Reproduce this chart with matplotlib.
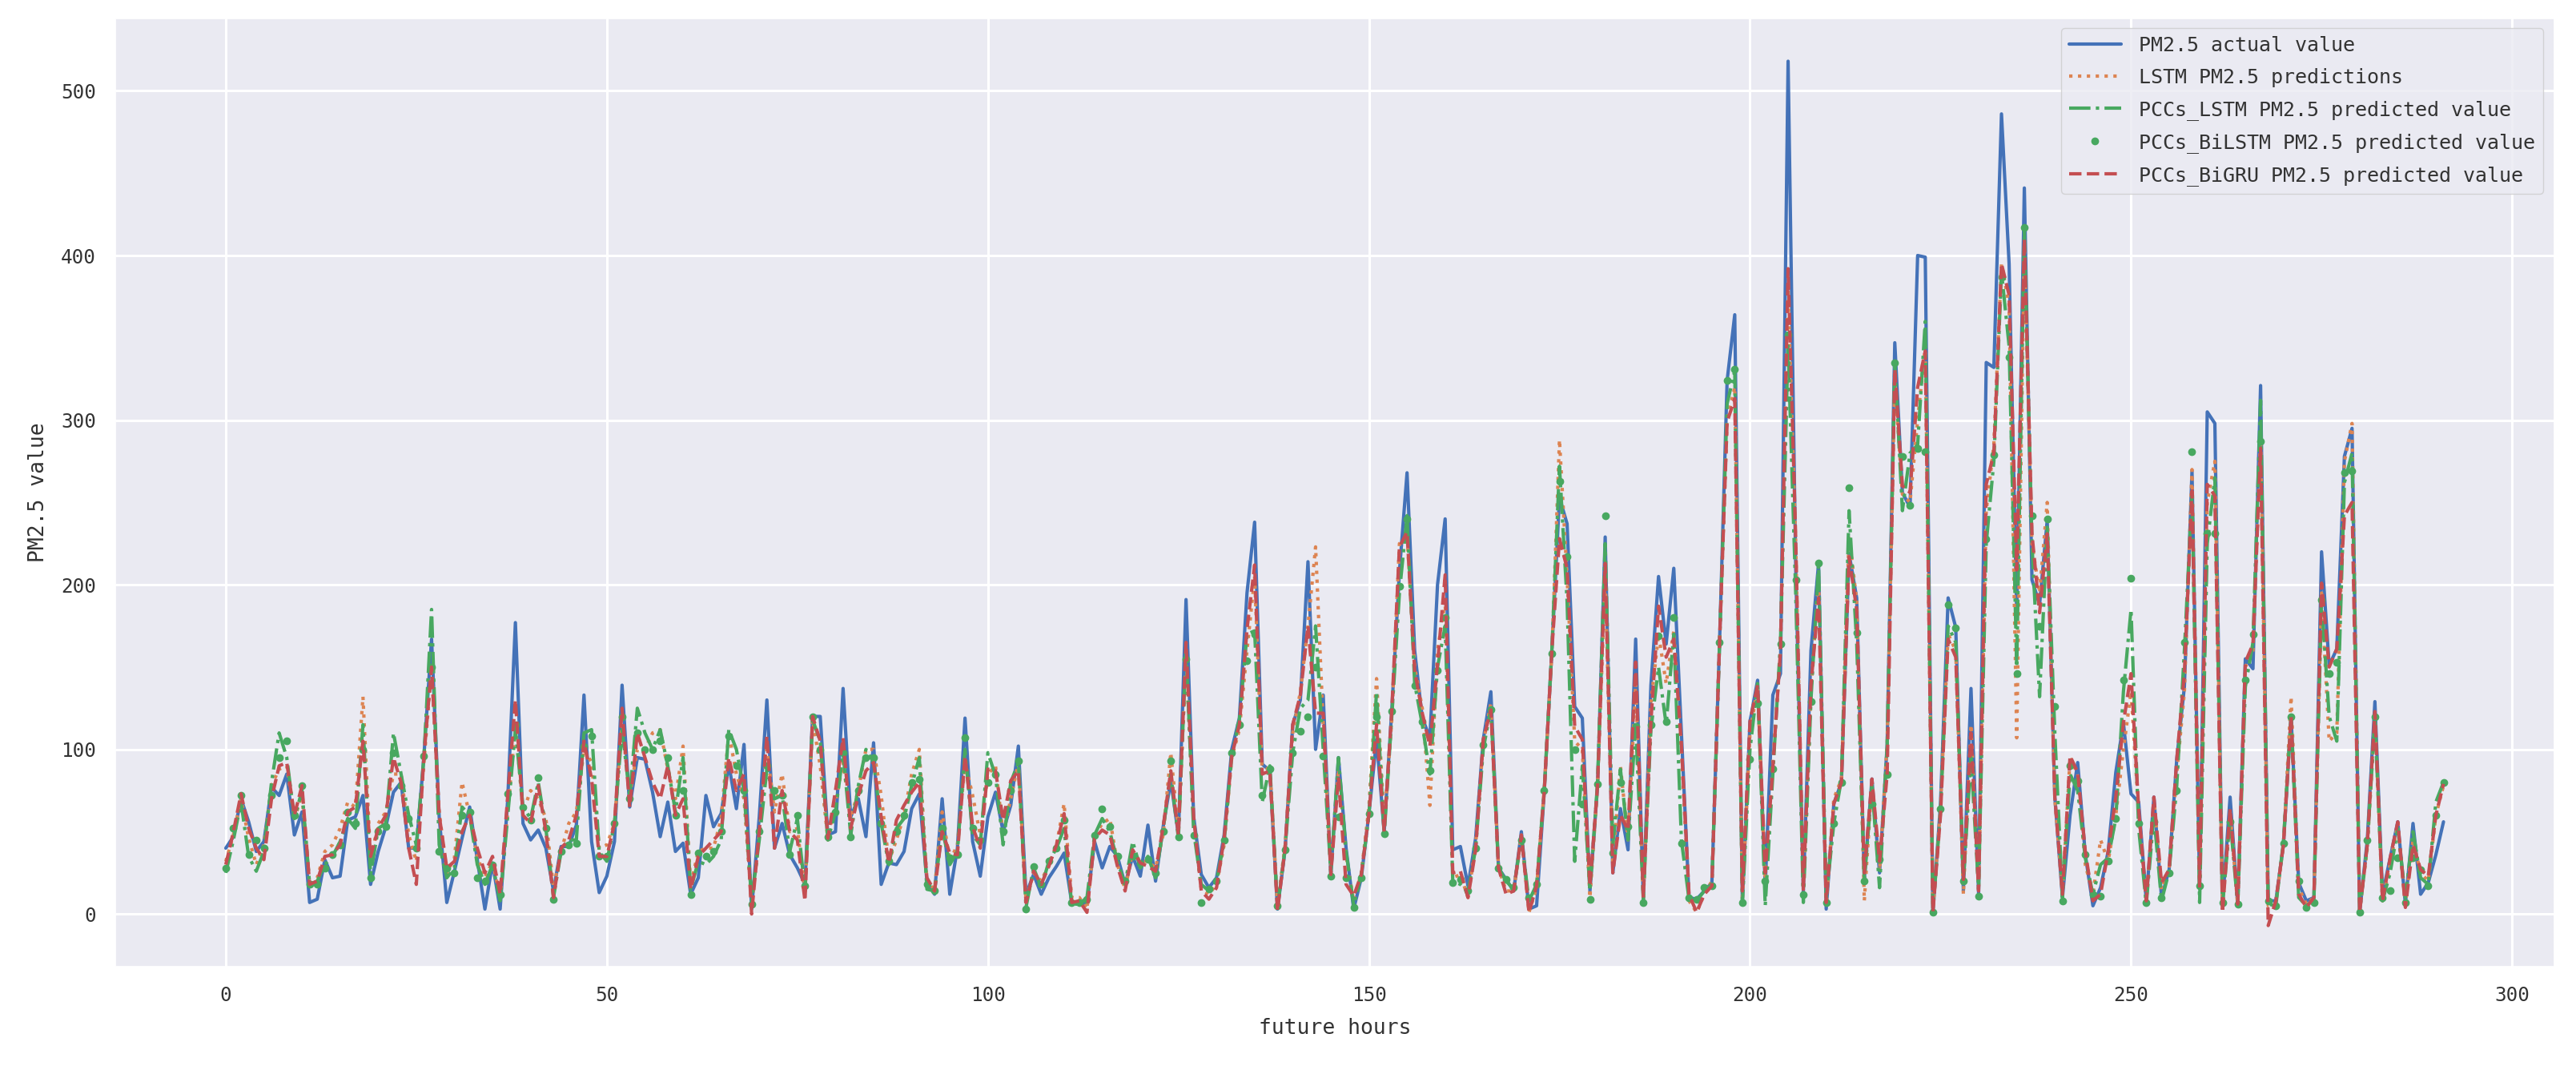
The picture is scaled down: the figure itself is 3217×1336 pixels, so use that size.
import numpy as np
import matplotlib
matplotlib.use("Agg")
import matplotlib.pyplot as plt
import seaborn as sns

actual = [40,47,70,56,38,44,77,72,85,48,
 62,7,9,33,22,23,57,59,72,18,
 38,53,74,80,40,40,96,167,59,7,
 26,46,65,33,3,31,3,70,177,55,
 45,51,40,14,41,41,54,133,44,13,
 23,44,139,65,95,94,74,47,68,38,
 43,12,22,72,53,61,91,64,103,3,
 59,130,40,55,36,28,18,120,120,48,
 50,137,59,70,47,104,18,31,30,38,
 64,73,20,12,70,12,40,119,44,23,
 59,74,50,66,102,12,24,12,22,29,
 37,7,7,6,44,28,41,35,18,35,
 23,54,20,53,81,48,191,59,24,16,
 22,48,100,119,195,238,91,87,3,39,
 115,130,214,100,133,24,95,40,3,22,
 61,106,50,124,208,268,160,119,107,200,
 240,39,41,17,46,106,135,28,21,14,
 50,3,5,74,160,253,237,126,119,14,
 78,229,25,64,39,167,9,139,205,164,
 210,110,10,9,14,19,164,324,364,7,
 117,142,17,133,146,518,210,14,160,213,
 3,67,80,219,192,21,82,25,103,347,
 256,247,400,399,1,67,192,174,14,137,
 12,335,332,486,395,183,441,203,188,239,
 71,10,60,92,36,5,16,38,86,116,
 73,68,8,71,10,27,94,138,269,16,
 305,298,6,71,6,155,149,321,8,8,
 42,120,19,8,10,220,151,161,278,295,
 1,45,129,12,34,56,6,55,12,19,36,56]

lstm = [32,48,70,46,30,42,78,88,90,58,
 72,18,22,38,42,52,68,65,132,32,
 55,62,85,85,48,32,92,150,62,25,
 34,80,60,35,22,32,10,62,115,62,
 75,70,58,16,38,55,62,100,92,40,
 42,55,115,72,100,100,110,112,88,70,
 102,18,38,40,40,58,110,85,70,5,
 48,100,62,85,50,52,12,118,90,45,
 68,92,58,75,100,100,72,32,45,60,
 85,100,20,15,62,32,42,92,72,48,
 85,90,48,70,92,8,25,20,30,42,
 67,10,10,3,47,55,58,30,15,38,
 32,32,28,48,98,50,155,55,15,12,
 18,42,95,112,160,205,85,90,5,42,
 110,135,175,223,115,28,88,35,8,25,
 65,143,55,118,225,230,150,125,66,160,
 190,22,24,10,42,104,128,28,14,14,
 48,1,16,76,158,288,205,105,100,10,
 78,205,30,90,45,140,8,128,170,140,
 172,100,8,1,12,20,165,300,320,8,
 110,138,18,92,160,380,225,12,135,205,
 5,70,82,230,190,8,80,26,104,325,
 255,250,300,345,1,65,170,160,12,115,
 14,245,285,395,370,107,405,225,195,250,
 70,12,95,85,30,12,45,32,60,100,
 135,62,8,70,15,28,85,135,270,15,
 250,275,4,62,5,150,160,290,5,6,
 42,132,16,6,10,195,105,110,275,298,
 2,40,120,8,30,55,6,45,25,20,60,78]

pccs_lstm = [25,45,68,35,26,38,80,110,95,58,
 75,18,20,30,35,44,58,52,115,24,
 52,55,110,85,60,42,95,185,42,22,
 28,65,60,30,18,30,8,60,112,65,
 58,80,52,10,38,45,45,110,112,38,
 32,55,112,72,125,110,100,112,90,62,
 95,15,32,30,35,45,112,100,75,8,
 45,88,70,72,38,58,14,118,105,45,
 62,98,48,78,100,92,55,30,52,58,
 78,95,15,14,52,30,38,100,48,42,
 98,84,42,80,92,4,28,16,32,40,
 52,6,6,10,48,58,50,32,18,44,
 28,35,22,52,85,46,160,50,18,14,
 20,44,96,118,170,172,68,90,4,40,
 98,125,130,175,100,25,95,38,5,24,
 60,135,48,120,195,242,140,115,85,150,
 175,20,18,13,40,100,125,28,20,15,
 46,8,18,75,160,272,190,32,90,14,
 80,225,42,88,45,115,9,112,150,115,
 170,45,9,8,14,18,162,310,330,6,
 100,140,5,85,165,345,195,7,130,212,
 10,55,82,245,165,20,78,16,102,335,
 245,280,285,360,2,62,175,165,20,95,
 15,225,275,390,345,150,415,225,132,235,
 110,10,85,75,34,12,30,34,58,135,
 185,52,6,60,8,26,78,160,255,7,
 225,265,5,58,5,138,165,312,6,5,
 44,120,10,5,9,190,120,105,262,280,
 2,42,118,8,25,52,10,50,22,18,68,80]

pccs_bilstm = [28,52,72,36,45,40,72,95,105,60,
 78,18,18,28,36,42,62,55,100,22,
 50,53,98,78,58,40,96,150,38,28,
 25,60,62,22,20,30,12,73,115,65,
 57,83,52,9,38,42,43,102,108,35,
 35,55,120,70,110,100,100,105,95,60,
 75,12,37,35,38,50,108,90,75,6,
 50,90,75,72,36,60,17,120,100,47,
 62,98,47,75,95,95,55,32,50,60,
 80,82,18,14,52,34,36,107,52,45,
 80,85,50,75,93,3,29,18,32,40,
 57,7,7,9,48,64,53,35,20,35,
 31,33,25,50,93,47,155,48,7,15,
 20,45,98,115,154,170,72,88,5,39,
 98,111,120,150,96,23,59,22,4,22,
 61,120,49,123,199,240,139,117,87,148,
 180,19,21,14,40,103,124,28,21,16,
 45,10,18,75,158,263,217,100,67,9,
 79,242,37,80,53,114,7,115,169,117,
 180,43,10,9,16,17,165,324,331,7,
 94,128,20,88,164,352,203,12,129,213,
 7,55,80,259,171,20,67,33,85,335,
 278,248,283,281,1,64,188,174,20,88,
 11,228,279,387,338,146,417,242,175,240,
 126,8,90,81,36,12,11,32,58,142,
 204,55,7,56,10,25,75,165,281,17,
 231,231,7,56,6,142,170,287,8,5,
 43,120,20,4,7,191,146,153,268,269,
 1,45,120,10,14,34,7,34,27,17,60,80]

pccs_bigru = [30,50,73,52,40,33,70,90,92,60,
 78,18,20,35,36,42,62,65,105,35,
 52,60,95,80,40,18,96,150,60,28,
 32,50,60,40,25,35,12,72,130,60,
 55,78,50,10,40,45,60,105,82,35,
 35,55,125,65,110,95,80,70,90,60,
 70,15,35,40,45,50,95,75,85,0,
 50,108,40,75,50,45,8,120,105,46,
 75,107,52,72,87,92,59,31,57,66,
 74,80,22,14,50,37,36,96,53,40,
 88,87,57,81,87,7,26,18,29,42,
 61,7,8,1,46,51,48,29,14,39,
 31,29,26,53,87,48,165,59,14,9,
 16,46,96,115,173,212,85,87,2,40,
 115,133,175,122,122,24,83,18,11,24,
 61,115,50,124,223,232,148,122,102,152,
 206,25,26,10,39,106,124,28,12,14,
 48,1,17,74,160,228,210,114,106,17,
 78,213,25,60,51,153,10,117,187,156,
 167,103,12,1,12,17,164,299,313,14,
 117,139,25,89,160,392,228,14,139,192,
 7,67,80,217,185,25,82,32,85,331,
 260,256,320,342,1,60,167,156,21,110,
 14,261,280,395,376,209,410,231,183,231,
 71,12,96,86,38,8,12,38,71,116,
 146,64,8,71,19,27,94,146,257,16,
 261,254,1,64,6,153,164,283,-7,8,
 42,120,12,4,10,201,150,161,242,250,
 1,42,123,8,34,56,4,42,27,23,60,79]

x_label = "future hours"
y_label = "PM2.5 value"
names = ["PM2.5 actual value", "LSTM PM2.5 predictions",
         "PCCs_LSTM PM2.5 predicted value", "PCCs_BiLSTM PM2.5 predicted value",
         "PCCs_BiGRU PM2.5 predicted value"]

sns.set_theme(style="darkgrid")
plt.rcParams['font.family'] = ['DejaVu Sans Mono', 'Liberation Mono']

W, H = 3217, 1336
fig = plt.figure(figsize=(W/100, H/100), dpi=100, facecolor="white")
ax = fig.add_axes([143.5/W, 1-1207/H, (3190-143.5)/W, (1207-23)/H])

C = ["#4472B8", "#DD8452", "#48A860", "#C44E52"]
lw = 3.0
ax.plot(np.arange(len(actual)), actual, color=C[0], lw=lw, label=names[0])
ax.plot(np.arange(len(lstm)), lstm, color=C[1], lw=lw, ls=':', label=names[1])
ax.plot(np.arange(len(pccs_lstm)), pccs_lstm, color=C[2], lw=lw, ls='-.', label=names[2])
ax.plot(np.arange(len(pccs_bilstm)), pccs_bilstm, color=C[2], ls='none', marker='.', ms=12, label=names[3])
ax.plot(np.arange(len(pccs_bigru)), pccs_bigru, color=C[3], lw=lw, ls='--', label=names[4])

ax.set_xlim(-14.55, 305.55)
ax.set_ylim(-32, 544)
ax.set_xticks(range(0, 301, 50))
ax.set_yticks(range(0, 501, 100))
ax.grid(True, color="white", lw=2.2)
ax.tick_params(labelsize=17.5, pad=11, labelcolor="#333333")
ax.set_xlabel(x_label, fontsize=19, labelpad=12, color="#333333")
ax.set_ylabel(y_label, fontsize=19, labelpad=11, color="#333333")
ax.legend(loc="upper right", fontsize=18, bbox_to_anchor=(0.9955, 0.99), borderaxespad=0,
          handlelength=2.6, handletextpad=0.9, labelspacing=0.64, labelcolor="#333333")
fig.savefig("out.png", dpi=100)
